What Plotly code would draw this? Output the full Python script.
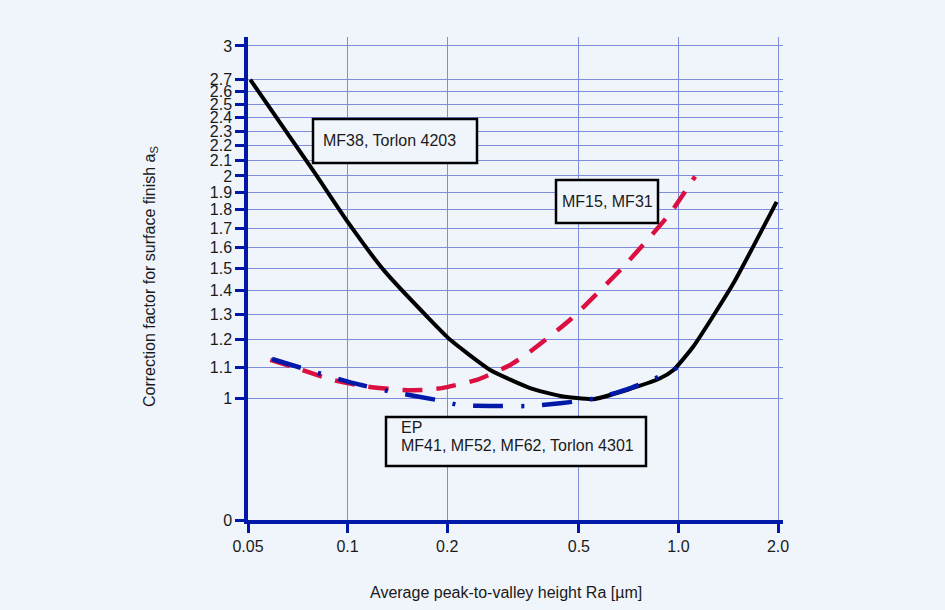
import math
import plotly.graph_objects as go

# ---- data ----
x_mf38 = [0.0508, 0.0789, 0.1007, 0.1284, 0.1777, 0.2043, 0.2698, 0.3562, 0.4391, 0.5535, 0.698, 0.880, 0.966, 1.109, 1.466, 1.98]
y_mf38 = [2.70, 2.03, 1.726, 1.492, 1.277, 1.200, 1.092, 1.032, 1.007, 0.997, 1.026, 1.064, 1.092, 1.175, 1.431, 1.845]

x_mf15 = [0.0584, 0.0703, 0.0897, 0.1144, 0.1476, 0.1696, 0.1928, 0.2459, 0.310, 0.3485, 0.4706, 0.682, 0.944, 1.123]
y_mf15 = [1.127, 1.098, 1.059, 1.037, 1.026, 1.026, 1.032, 1.059, 1.109, 1.148, 1.277, 1.507, 1.78, 1.997]

x_ep = [0.0591, 0.0745, 0.1042, 0.1377, 0.1928, 0.219, 0.27, 0.356, 0.439, 0.5045, 0.58, 0.698, 0.8025, 0.944, 0.989]
y_ep = [1.130, 1.095, 1.048, 1.019, 0.9916, 0.978, 0.976, 0.976, 0.9845, 0.9917, 1.003, 1.028, 1.053, 1.086, 1.100]

x_tick_vals = [0.05, 0.1, 0.2, 0.5, 1.0, 2.0]
x_tick_text = ["0.05", "0.1", "0.2", "0.5", "1.0", "2.0"]
y_tick_vals = [0.684, 1, 1.1, 1.2, 1.3, 1.4, 1.5, 1.6, 1.7, 1.8, 1.9, 2, 2.1, 2.2, 2.3, 2.4, 2.5, 2.6, 2.7, 3]
y_tick_text = ["0", "1", "1.1", "1.2", "1.3", "1.4", "1.5", "1.6", "1.7", "1.8", "1.9", "2",
               "2.1", "2.2", "2.3", "2.4", "2.5", "2.6", "2.7", "3"]

BG = "#f0f5fc"
AXIS = "#0019a8"
GRID = "#7f8cdc"
TXT = "#1a1a1a"
FONT = "Liberation Sans, Arial, sans-serif"
FS = 16

fig = go.Figure()
fig.add_trace(go.Scatter(x=x_mf38, y=y_mf38, mode="lines",
                         line=dict(color="black", width=4, shape="spline", smoothing=0.5),
                         showlegend=False, hoverinfo="skip"))
fig.add_trace(go.Scatter(x=x_mf15, y=y_mf15, mode="lines",
                         line=dict(color="#dc1040", width=4.5, dash="20px,14px", shape="spline", smoothing=0.5),
                         showlegend=False, hoverinfo="skip"))
fig.add_trace(go.Scatter(x=x_ep, y=y_ep, mode="lines",
                         line=dict(color=AXIS, width=4.5, dash="30px,18px,3px,18px", shape="spline", smoothing=0.5),
                         showlegend=False, hoverinfo="skip"))

# plot area in pixels
L, T, W, H = 248, 37, 535, 483


def px(xp):
    return (xp - L) / W


def py(yp):
    return (T + H - yp) / H


boxes = [
    (313, 119, 477, 163),
    (556, 180, 658, 223),
    (386, 417, 646, 466),
]
for (x0, y0, x1, y1) in boxes:
    fig.add_shape(type="rect", xref="paper", yref="paper", x0=px(x0), x1=px(x1), y0=py(y1), y1=py(y0),
                  line=dict(color="black", width=2.5), fillcolor=BG, layer="above")

labels = [
    (321, 140, "MF38, Torlon 4203"),
    (560, 201, "MF15, MF31"),
    (399, 427, "EP"),
    (399, 445, "MF41, MF52, MF62, Torlon 4301"),
]
for (x, y, t) in labels:
    fig.add_annotation(xref="paper", yref="paper", x=px(x), y=py(y), text=t, showarrow=False,
                       xanchor="left", yanchor="middle", align="left",
                       font=dict(family=FONT, size=FS, color=TXT))

fig.add_annotation(xref="paper", yref="paper", x=px(506), y=py(592), text="Average peak-to-valley height Ra [\u00b5m]",
                   showarrow=False, xanchor="center", yanchor="middle", font=dict(family=FONT, size=FS, color=TXT))
fig.add_annotation(xref="paper", yref="paper", x=px(150), y=py(277), text="Correction factor for surface finish a<sub>S</sub>",
                   showarrow=False, xanchor="center", yanchor="middle", textangle=-90,
                   font=dict(family=FONT, size=FS, color=TXT))

axis_common = dict(type="log", showgrid=True, gridcolor=GRID, gridwidth=1,
                   showline=True, linecolor=AXIS, linewidth=3.5,
                   ticks="outside", ticklen=9, tickwidth=3, tickcolor=AXIS,
                   tickfont=dict(family=FONT, size=FS, color=TXT), zeroline=False)
fig.update_xaxes(range=[math.log10(0.05), math.log10(2.07)], tickvals=x_tick_vals, ticktext=x_tick_text, **axis_common)
fig.update_yaxes(range=[math.log10(0.684), 0.4892], tickvals=y_tick_vals, ticktext=y_tick_text, **axis_common)

fig.update_layout(width=945, height=610, paper_bgcolor=BG, plot_bgcolor=BG,
                  margin=dict(l=L, r=945 - L - W, t=T, b=610 - T - H), showlegend=False,
                  font=dict(family=FONT))

fig.write_html("out.html")
